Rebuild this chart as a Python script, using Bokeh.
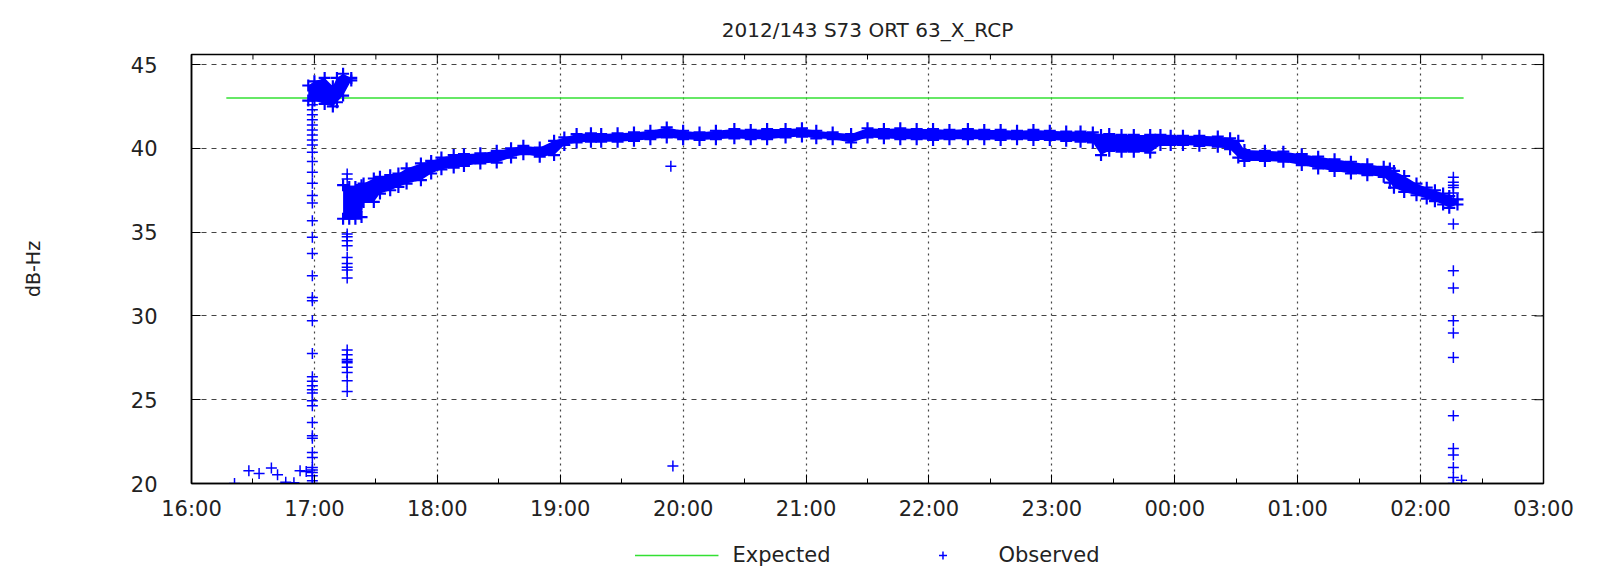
import pandas as pd
from bokeh.plotting import figure
from bokeh.layouts import column
from bokeh.models import (DatetimeTickFormatter, FixedTicker, Range1d,
                          Legend, LegendItem, ColumnDataSource)
from bokeh.embed import file_html
from bokeh.resources import INLINE

TITLE = "2012/143 S73 ORT 63_X_RCP"
DAY = "2012-05-22"   # 2012 day-of-year 143
Y_LABEL = "dB-Hz"
SERIES = ["Expected", "Observed"]

x_ticks = ["16:00", "17:00", "18:00", "19:00", "20:00", "21:00", "22:00",
           "23:00", "00:00", "01:00", "02:00", "03:00"]
x_minor = ["16:30", "17:30", "18:30", "19:30", "20:30", "21:30", "22:30",
           "23:30", "00:30", "01:30", "02:30"]
y_ticks = [20, 25, 30, 35, 40, 45]
Y_MIN, Y_MAX = 20, 45.6

expected_time = ["16:17", "02:21"]
expected_val = [43.0, 43.0]

# early acquisition blob (upper / lower edge of the dense cloud)
blob_time = ["16:57", "17:00", "17:05", "17:09", "17:11", "17:14", "17:18"]
blob_hi = [43.75, 44.0, 44.2, 43.7, 44.2, 44.45, 44.2]
blob_lo = [42.85, 42.85, 42.65, 42.5, 42.75, 43.15, 44.05]

# main track (upper / lower edge of the dense cloud)
band_time = ["17:14", "17:17", "17:20", "17:23", "17:24", "17:29", "17:32", "17:37",
             "17:41", "17:45", "17:52", "17:57", "18:02", "18:08", "18:13", "18:21",
             "18:29", "18:36", "18:42", "18:50", "18:57", "19:02", "19:08", "19:15",
             "19:20", "19:28", "19:36", "19:44", "19:52", "20:00", "20:08", "20:16",
             "20:25", "20:33", "20:41", "20:50", "20:58", "21:05", "21:13", "21:22",
             "21:30", "21:38", "21:46", "21:54", "22:02", "22:10", "22:19", "22:27",
             "22:35", "22:43", "22:51", "22:59", "23:07", "23:14", "23:20", "23:24",
             "23:28", "23:34", "23:40", "23:48", "23:53", "23:58", "00:04", "00:12",
             "00:21", "00:27", "00:31", "00:34", "00:44", "00:53", "01:02", "01:10",
             "01:18", "01:26", "01:34", "01:42", "01:45", "01:47", "01:52", "01:58",
             "02:03", "02:07", "02:11", "02:14", "02:18"]
band_hi = [37.8, 37.7, 37.7, 37.8, 37.9, 38.2, 38.3, 38.4,
           38.5, 38.8, 39.1, 39.25, 39.45, 39.6, 39.65, 39.7,
           39.85, 40.0, 40.15, 40.05, 40.45, 40.65, 40.85, 40.9,
           40.85, 40.9, 40.95, 41.05, 41.25, 41.05, 40.95, 41.05,
           41.15, 41.1, 41.15, 41.15, 41.2, 41.05, 40.95, 40.85,
           41.2, 41.15, 41.2, 41.15, 41.15, 41.1, 41.15, 41.1,
           41.1, 41.05, 41.1, 41.05, 41.0, 41.0, 40.95, 40.8,
           40.85, 40.8, 40.8, 40.8, 40.8, 40.75, 40.75, 40.75,
           40.7, 40.6, 40.45, 39.9, 39.85, 39.8, 39.65, 39.5,
           39.35, 39.2, 39.05, 38.9, 38.8, 38.65, 38.35, 37.9,
           37.65, 37.5, 37.3, 37.15, 36.95]
band_lo = [35.8, 35.8, 35.8, 35.9, 36.8, 36.8, 37.3, 37.5,
           37.7, 37.9, 38.1, 38.5, 38.75, 38.85, 38.95, 39.1,
           39.15, 39.45, 39.65, 39.5, 39.6, 40.2, 40.35, 40.4,
           40.4, 40.4, 40.45, 40.55, 40.65, 40.55, 40.5, 40.55,
           40.6, 40.55, 40.55, 40.65, 40.7, 40.6, 40.55, 40.35,
           40.65, 40.6, 40.55, 40.55, 40.5, 40.55, 40.55, 40.55,
           40.5, 40.55, 40.5, 40.5, 40.45, 40.4, 40.35, 39.6,
           39.85, 39.8, 39.8, 39.75, 40.2, 40.2, 40.2, 40.15,
           40.1, 39.95, 39.45, 39.25, 39.25, 39.2, 39.0, 38.8,
           38.65, 38.5, 38.4, 38.3, 37.95, 37.65, 37.4, 37.2,
           37.0, 36.85, 36.65, 36.45, 36.65]

# isolated observations
pt_time = (["16:21", "16:28", "16:33", "16:39", "16:42", "16:46", "16:50", "16:53", "16:56"]
           + ["16:59"] * 41
           + ["17:16"] * 20
           + ["19:54", "19:55"]
           + ["02:16"] * 17 + ["02:20"])
pt_val = ([20.0, 20.76, 20.6, 20.92, 20.52, 20.08, 20.04, 20.76, 20.72]
          + [42.6, 42.3, 42.0, 41.7, 41.4, 41.1, 40.8, 40.5, 40.2, 39.76, 39.22, 38.57,
             37.91, 37.18, 36.74, 35.68, 34.69, 33.73, 32.4, 31.1, 30.9, 29.71, 27.76,
             26.37, 26.1, 25.83, 25.6, 25.4, 24.94, 24.64, 23.64, 22.85, 22.7, 21.85,
             21.55, 20.96, 20.8, 20.66, 20.46, 20.16, 20.0]
          + [38.47, 38.17, 34.89, 34.73, 34.49, 34.19, 33.49, 33.13, 32.9, 32.74, 32.26,
             27.96, 27.68, 27.4, 27.3, 27.2, 26.93, 26.63, 26.13, 25.49]
          + [38.93, 21.04]
          + [38.27, 37.97, 37.8, 37.67, 37.34, 35.49, 32.7, 31.67, 29.71, 28.98, 27.52,
             24.04, 22.09, 21.7, 20.96, 20.36, 20.0]
          + [20.2])


def to_dt(times):
    out = []
    for s in times:
        h, m = (int(v) for v in s.split(":"))
        d = pd.Timestamp(DAY) + pd.Timedelta(hours=h, minutes=m)
        if h < 12:
            d += pd.Timedelta(days=1)
        out.append(d)
    return out


def to_ms(times):
    return [d.timestamp() * 1000.0 for d in to_dt(times)]


FONT = "DejaVu Sans"
TXT = "#222222"
BLUE = "#0000ff"
GREEN = "#33e033"

xt = to_ms(x_ticks)
xm = to_ms(x_minor)
p = figure(width=1602, height=538, x_axis_type="datetime",
           x_range=Range1d(xt[0], xt[-1]), y_range=Range1d(Y_MIN, Y_MAX),
           output_backend="svg", toolbar_location=None, title=TITLE,
           min_border_left=191, min_border_right=59, min_border_top=54,
           min_border_bottom=55)

ticker = FixedTicker(ticks=xt, minor_ticks=xm)
yticker = FixedTicker(ticks=y_ticks, minor_ticks=[])
fmt = DatetimeTickFormatter(hours="%H:%M", days="%H:%M", hourmin="%H:%M",
                            minutes="%H:%M", months="%H:%M", years="%H:%M")

p.title.text_font = FONT
p.title.text_font_size = "20px"
p.title.text_font_style = "normal"
p.title.text_color = TXT
p.title.align = "center"
p.title.standoff = 26

p.outline_line_color = "black"
p.outline_line_width = 1.5

for ax in p.xaxis:
    ax.ticker = ticker
    ax.formatter = fmt
for ax in p.yaxis:
    ax.ticker = yticker
    ax.axis_label = Y_LABEL
    ax.axis_label_text_font = FONT
    ax.axis_label_text_font_size = "19px"
    ax.axis_label_text_font_style = "normal"
    ax.axis_label_text_color = TXT
    ax.axis_label_standoff = 84

for ax in list(p.xaxis) + list(p.yaxis):
    ax.major_tick_in = 9
    ax.major_tick_out = 0
    ax.minor_tick_in = 5
    ax.minor_tick_out = 0
    ax.major_tick_line_color = "black"
    ax.minor_tick_line_color = "black"
    ax.axis_line_color = "black"
    ax.axis_line_width = 1.5
    ax.major_label_text_font = FONT
    ax.major_label_text_font_size = "21px"
    ax.major_label_text_color = TXT
p.xaxis.major_label_standoff = 13
p.yaxis.major_label_standoff = 34

p.xgrid.grid_line_color = "#444444"
p.xgrid.grid_line_dash = "2 4"
p.xgrid.grid_line_width = 1.2
p.ygrid.grid_line_color = "#444444"
p.ygrid.grid_line_dash = "5 5"
p.ygrid.grid_line_width = 1

# mirrored inward ticks on the top and right edges (half of each dash is clipped)
p.scatter(x=xt, y=[Y_MAX] * len(xt), marker="dash", angle=1.5708, size=18,
          line_color="black", line_width=1)
p.scatter(x=xm, y=[Y_MAX] * len(xm), marker="dash", angle=1.5708, size=10,
          line_color="black", line_width=1)
p.scatter(x=[xt[-1]] * len(y_ticks), y=y_ticks, marker="dash", size=18,
          line_color="black", line_width=1)

exp_src = ColumnDataSource(dict(t=to_dt(expected_time), v=expected_val))
p.line("t", "v", source=exp_src, line_color=GREEN, line_width=1.5)

blob_src = ColumnDataSource(dict(t=to_dt(blob_time), hi=blob_hi, lo=blob_lo))
band_src = ColumnDataSource(dict(t=to_dt(band_time), hi=band_hi, lo=band_lo))
for src in (blob_src, band_src):
    p.varea(x="t", y1="lo", y2="hi", source=src, fill_color=BLUE)
    p.scatter("t", "hi", source=src, marker="cross", size=12, line_color=BLUE, line_width=2.2)
    p.scatter("t", "lo", source=src, marker="cross", size=12, line_color=BLUE, line_width=2.2)

pt_src = ColumnDataSource(dict(t=to_dt(pt_time), v=pt_val))
p.scatter("t", "v", source=pt_src, marker="cross", size=11, line_color=BLUE,
          line_width=1.5)

# key strip underneath the chart: it shares the series' sources and styles,
# its own ranges keep the data out of view so only the key entries show
k = figure(width=1602, height=34, x_range=Range1d(0, 1), y_range=Range1d(0, 1),
           output_backend="svg", toolbar_location=None,
           min_border_left=0, min_border_right=0, min_border_top=0, min_border_bottom=0)
k.axis.visible = False
k.grid.visible = False
k.outline_line_color = None
key_line = k.line("t", "v", source=exp_src, line_color=GREEN, line_width=1.5)
key_pts = k.scatter("t", "v", source=pt_src, marker="cross", size=11,
                    line_color=BLUE, line_width=1.5)
legend = Legend(items=[LegendItem(label=SERIES[0], renderers=[key_line]),
                       LegendItem(label=SERIES[1], renderers=[key_pts])],
                orientation="horizontal", location="center",
                border_line_alpha=0, background_fill_alpha=0,
                label_text_font=FONT, label_text_font_size="21px",
                label_text_color=TXT, glyph_width=84, spacing=70,
                padding=2, margin=0, label_standoff=14)
k.add_layout(legend)

open("out.html", "w").write(file_html(column(p, k, spacing=0), INLINE))
